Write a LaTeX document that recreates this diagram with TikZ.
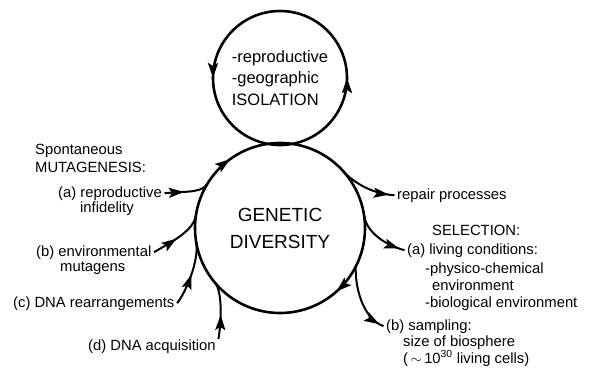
\documentclass[tikz,border=0pt]{standalone}
\usepackage{fontspec}
\setmainfont{Liberation Sans}
\usetikzlibrary{arrows.meta,decorations.markings}

\begin{document}
\begin{tikzpicture}[
    x=1pt, y=-1pt,
    >={Stealth[length=15pt, width=10pt, inset=3pt]},
    lbl/.style={inner xsep=2.5pt, inner ysep=0pt, anchor=base west,
                align=left, font=\fontsize{14.8}{17}\selectfont},
    hub/.style={circle, minimum size=170pt, inner sep=0pt, outer sep=0pt,
                align=center, font=\fontsize{19}{27}\selectfont},
    isle/.style={circle, minimum size=134pt, inner sep=0pt, outer sep=0pt,
                 align=left, font=\fontsize{16.5}{21.5}\selectfont},
    ring/.style={line width=2.6pt, postaction={decorate}},
    flow/.style={line width=2pt, postaction={decorate},
                 decoration={markings, mark=at position #1 with {\arrow{>}}}},
]
    \useasboundingbox (0,0) rectangle (594,372);

    \node[isle] (iso) at (280,78)  {-reproductive\\-geographic\\ISOLATION};
    \node[hub]  (gd)  at (280,228) {GENETIC\\DIVERSITY};

    \node[lbl] (spont)  at (32.5,154) {Spontaneous};
    \node[lbl] (mutag)  at (32.5,172) {MUTAGENESIS:};
    \node[lbl] (repro)  at (55.5,197) {(a) reproductive};
    \node[lbl] (infid)  at (77.5,212) {infidelity};
    \node[lbl] (envir)  at (33.5,256) {(b) environmental};
    \node[lbl] (mutgn)  at (57.5,271) {mutagens};
    \node[lbl] (rearr)  at (10.5,307) {(c) DNA rearrangements};
    \node[lbl] (acqui)  at (85.5,350) {(d) DNA acquisition};

    \node[lbl] (repair) at (394.5,199) {repair processes};
    \node[lbl] (select) at (429.5,235) {SELECTION:};
    \node[lbl] (living) at (404.5,254) {(a) living conditions:};
    \node[lbl] (envlst) at (422.5,307)
        {-physico-chemical\\\hspace*{7pt}environment\\-biological environment};
    \node[lbl] (sampl)  at (383.5,330) {(b) sampling:};
    \node[lbl] (biosph) at (400.5,363)
        {size of biosphere\\(\,$\sim$\,10\textsuperscript{30} living cells)};

    \draw[ring, decoration={markings,
            mark=at position 0.25 with {\arrow{>}},
            mark=at position 0.75 with {\arrow{>}}}]
        (iso.south) arc[start angle=-90, end angle=270, radius=67pt];
    \draw[ring, decoration={markings,
            mark=at position 0.35 with {\arrowreversed{>}},
            mark=at position 0.866 with {\arrowreversed{>}}}]
        (gd.center) circle[radius=85pt];

    \draw[flow=0.42] (repro.east) .. controls (190,191) and (202,193) .. (gd.148);
    \draw[flow=0.45] (envir.east) .. controls (175,240) and (194,230) .. (gd.171);
    \draw[flow=0.5]  (rearr.east) .. controls (186,292) and (199,261) .. (gd.190);
    \draw[flow=0.42] (acqui.north east) .. controls (221,325) and (223,292) .. (gd.220);
    \draw[flow=0.9]  (gd.42) .. controls (351,180) and (370,194) .. (repair.west);
    \draw[flow=0.9]  (gd.9) .. controls (366,232) and (385,245) .. (living.west);
    \draw[flow=0.93] (gd.333) .. controls (355,286) and (362,318) .. (sampl.west);
\end{tikzpicture}
\end{document}
